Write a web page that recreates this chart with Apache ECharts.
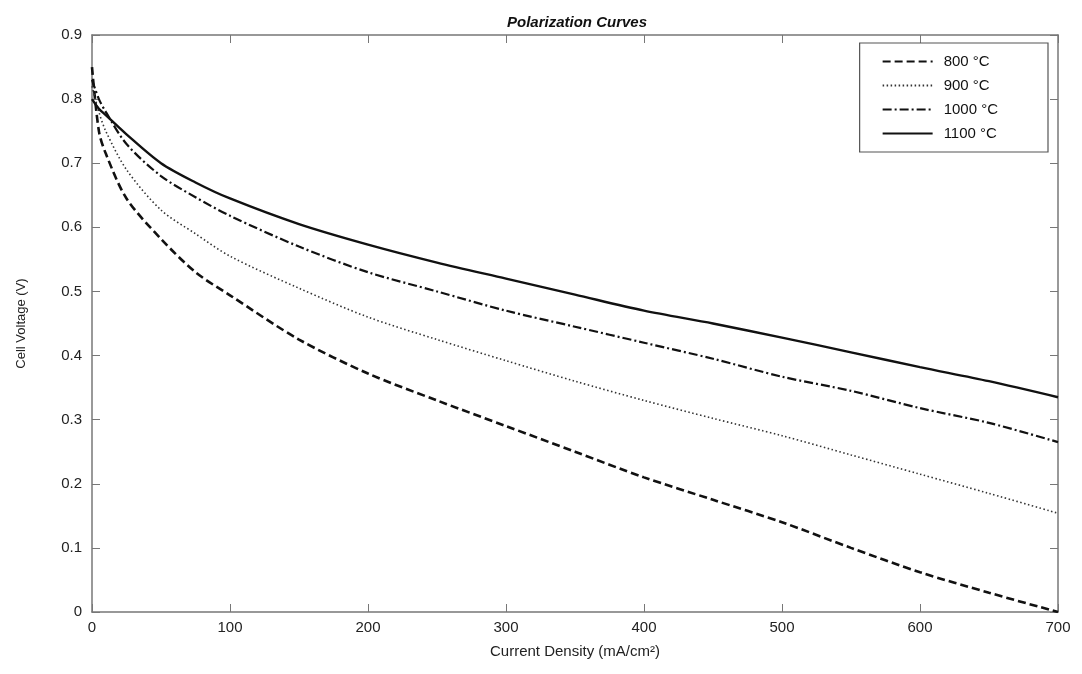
<!DOCTYPE html>
<html><head><meta charset="utf-8">
<script src="https://cdn.jsdelivr.net/npm/echarts@6/dist/echarts.min.js"></script>
<style>html,body{margin:0;padding:0;background:#fff}#c{width:1082px;height:674px}</style>
</head><body><div id="c"></div>
<script>
const currentDensity = [0,5,10,25,50,75,100,150,200,250,300,350,400,450,500,550,600,650,700];
const v800  = [0.85,0.75,0.715,0.645,0.582,0.53,0.494,0.425,0.372,0.33,0.29,0.25,0.21,0.175,0.14,0.10,0.062,0.03,0.0];
const v900  = [0.82,0.78,0.75,0.69,0.627,0.59,0.555,0.505,0.46,0.425,0.392,0.36,0.33,0.302,0.275,0.245,0.215,0.185,0.154];
const v1000 = [0.83,0.80,0.78,0.73,0.68,0.647,0.618,0.57,0.53,0.50,0.47,0.445,0.42,0.395,0.367,0.345,0.318,0.295,0.265];
const v1100 = [0.80,0.785,0.775,0.745,0.70,0.67,0.645,0.605,0.573,0.545,0.52,0.495,0.47,0.45,0.428,0.405,0.382,0.36,0.335];
const seriesNames = ['800 °C','900 °C','1000 °C','1100 °C'];
const xTicks = {min:0,max:700,interval:100};
const yTicks = {min:0,max:0.9,interval:0.1};

const pairs = arr => currentDensity.map((x,i)=>[x,arr[i]]);
const styles = [
  {type:[8,4],width:2.6,color:'#111'},
  {type:[1.5,2.5],width:1.6,color:'#333'},
  {type:[9,3,2,3],width:2.2,color:'#111'},
  {type:'solid',width:2.4,color:'#111'}
];
const data = [v800,v900,v1000,v1100];
const font = 'Liberation Sans';
const axisLine = {show:true,onZero:false,lineStyle:{color:'#777',width:1.5}};
const tick = {inside:true,length:8,lineStyle:{color:'#777'}};
const chart = echarts.init(document.getElementById('c'));
chart.setOption({
  animation:false,
  backgroundColor:'#fff',
  title:{text:'Polarization Curves',left:572,textAlign:'center',top:10,
    textStyle:{fontFamily:font,fontSize:15,fontStyle:'italic',fontWeight:'bold',color:'#111'}},
  grid:{left:92,right:24,top:35,bottom:62},
  legend:{right:34,top:43,orient:'vertical',itemWidth:50,itemHeight:15,itemGap:9,
    padding:[11,50,11,22],borderColor:'#555',borderWidth:1.2,backgroundColor:'#fff',
    itemStyle:{opacity:0},
    textStyle:{fontFamily:font,fontSize:15,color:'#111',padding:[0,0,0,6]},
    data:seriesNames},
  xAxis:[
    {type:'value',...xTicks,position:'bottom',axisLine,axisTick:tick,splitLine:{show:false},
     axisLabel:{fontFamily:font,fontSize:15,color:'#222',margin:8},
     name:'Current Density (mA/cm²)',nameLocation:'middle',nameGap:32,
     nameTextStyle:{fontFamily:font,fontSize:15,color:'#222'}},
    {type:'value',...xTicks,position:'top',axisLine,axisTick:tick,splitLine:{show:false},axisLabel:{show:false}}
  ],
  yAxis:[
    {type:'value',...yTicks,position:'left',axisLine,axisTick:tick,splitLine:{show:false},
     axisLabel:{fontFamily:font,fontSize:15,color:'#222',margin:10},
     name:'Cell Voltage (V)',nameLocation:'middle',nameGap:64,nameRotate:90,
     nameTextStyle:{fontFamily:font,fontSize:13,color:'#222'}},
    {type:'value',...yTicks,position:'right',axisLine,axisTick:tick,splitLine:{show:false},axisLabel:{show:false}}
  ],
  series:seriesNames.map((n,i)=>({
    name:n,type:'line',data:pairs(data[i]),smooth:0.3,showSymbol:false,symbol:'none',
    lineStyle:styles[i],itemStyle:{color:styles[i].color}
  }))
});
</script></body></html>
